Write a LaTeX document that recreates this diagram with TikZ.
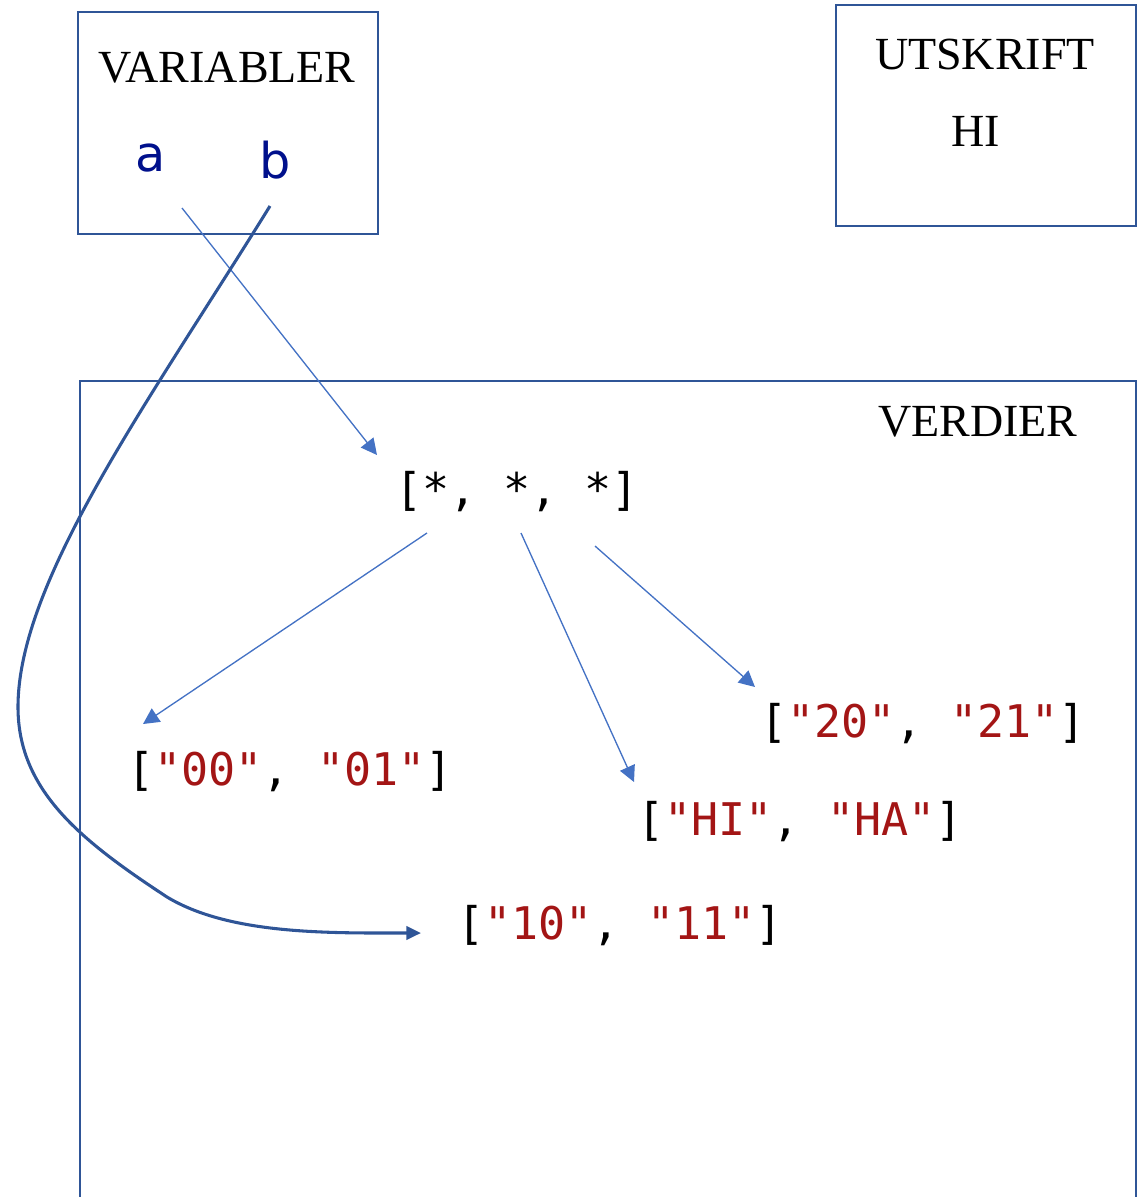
\documentclass[tikz,border=0pt]{standalone}
\usepackage{fontspec}
\setmainfont{Liberation Serif}
\newfontfamily\codefont{DejaVu Sans Mono}
\newfontfamily\namefont{DejaVu Sans}
\usetikzlibrary{calc, arrows.meta}

\definecolor{boxblue}{RGB}{47,85,151}
\definecolor{arrowblue}{RGB}{68,114,196}
\definecolor{strred}{RGB}{163,21,21}
\definecolor{varblue}{RGB}{0,16,140}
\newcommand{\qstr}[1]{\textcolor{strred}{"#1"}}

\tikzset{
  frame/.style={draw=boxblue, line width=2.2pt},
  title/.style={font=\fontsize{34.5}{40}\selectfont},
  code/.style={font=\codefont\fontsize{33.75}{40}\selectfont},
  varname/.style={font=\namefont\fontsize{37}{44}\selectfont, text=varblue},
  ref/.style={draw=arrowblue, line width=1pt, -{Triangle[length=12pt, width=12pt]}},
  bref/.style={draw=boxblue, line width=2.3pt, -{Triangle[length=11pt, width=10pt]}}
}

\begin{document}
\begin{tikzpicture}[x=0.75pt, y=-0.75pt]
    \useasboundingbox (0,0) rectangle (1137,1197);
    % boxes
    \draw[frame] (78,12) rectangle (378,234);
    \draw[frame] (836,5) rectangle (1136,226);
    \draw[frame] (80,1230) -- (80,381) -- (1136,381) -- (1136,1230);

    \node[title] (vars) at (227,68) {VARIABLER};
    \node[varname] (a) at (151,158) {a};
    \node[varname] (b) at (275,160) {b};
    \node[title] (out) at (985,54) {UTSKRIFT};
    \node[title] (outhi) at (976,131) {HI};
    \node[title] (vals) at (978,422) {VERDIER};

    % values
    \node[code] (stars) at (517,492) {[*, *, *]};
    \node[code] (l00) at (290,772) {[\qstr{00}, \qstr{01}]};
    \node[code] (l20) at (923,724) {[\qstr{20}, \qstr{21}]};
    \node[code] (lhi) at (800,822) {[\qstr{HI}, \qstr{HA}]};
    \node[code] (l10) at (620,926) {[\qstr{10}, \qstr{11}]};

    % references
    \draw[ref] ($(a)+(31,50)$) -- ($(stars)+(-140,-37)$);
    \foreach \dx/\dy/\dst/\ex/\ey in {-90/41/l00/-147/-48, 4/41/lhi/-166/-40, 78/54/l20/-168/-37} {
      \draw[ref] ($(stars)+(\dx,\dy)$) -- ($(\dst)+(\ex,\ey)$);
    }
    \draw[bref] ($(b)+(-5,46)$) .. controls (150,400) and (18,580) .. (18,707)
      .. controls (18,790) and (80,840) .. (167,897)
      .. controls (230,935) and (330,933) .. ($(l10)+(-199,7)$);
  \end{tikzpicture}
\end{document}
